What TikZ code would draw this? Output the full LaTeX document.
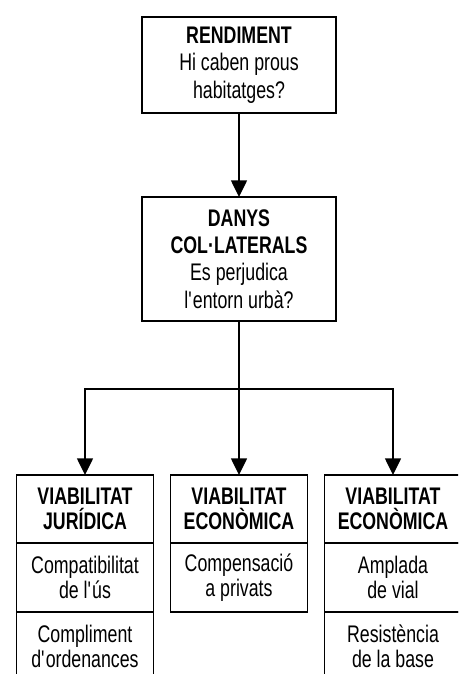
\documentclass[tikz,border=0pt]{standalone}
\usepackage{fontspec}
\setmainfont[FakeStretch=0.74]{Liberation Sans}
\usetikzlibrary{arrows.meta,positioning}

\begin{document}
\begin{tikzpicture}[
    x=0.75pt, y=-0.75pt,
    box/.style={rectangle, draw, line width=1.1pt, outer sep=0pt, inner sep=2pt, align=center,
        font=\fontsize{18}{20.5}\selectfont},
    topbox/.style={box, minimum width=145.5pt, minimum height=72pt},
    headbox/.style={box, minimum width=102.75pt, minimum height=51pt, font=\fontsize{18}{19}\selectfont\bfseries},
    rowbox/.style={box, minimum width=102.75pt, minimum height=51.75pt, font=\fontsize{18}{19}\selectfont},
    arrow/.style={-{Triangle[width=12pt,length=12.5pt]}, line width=1.1pt}
]
\clip (0,0) rectangle (458,674);

\node[topbox] (rend) at (239,65) {\textbf{RENDIMENT}\\Hi caben prous\\habitatges?};
\node[topbox, minimum height=93pt] (danys) at (239,259) {\textbf{DANYS}\\\textbf{COL·LATERALS}\\Es perjudica\\l\textquotesingle entorn urbà?};

\node[headbox] (jur) at (85,509) {VIABILITAT\\JURÍDICA};
\node[rowbox, below=0pt of jur] (jurus) {Compatibilitat\\de l\textquotesingle ús};
\node[rowbox, below=0pt of jurus] (jurord) {Compliment\\d\textquotesingle ordenances};

\node[headbox] (eco) at (239,509) {VIABILITAT\\ECONÒMICA};
\node[rowbox, below=0pt of eco] (ecocomp) {Compensació\\a privats};

\node[headbox] (vial) at (393,509) {VIABILITAT\\ECONÒMICA};
\node[rowbox, below=0pt of vial] (vialampl) {Amplada\\de vial};
\node[rowbox, below=0pt of vialampl] (vialbase) {Resistència\\de la base};

\coordinate (split) at (239,389);

\draw[arrow] (rend) -- (danys);
\draw[line width=1.1pt] (danys) -- (split);
\draw[arrow] (split) -| (jur);
\draw[arrow] (split) -- (eco);
\draw[arrow] (split) -| (vial);
\end{tikzpicture}
\end{document}
